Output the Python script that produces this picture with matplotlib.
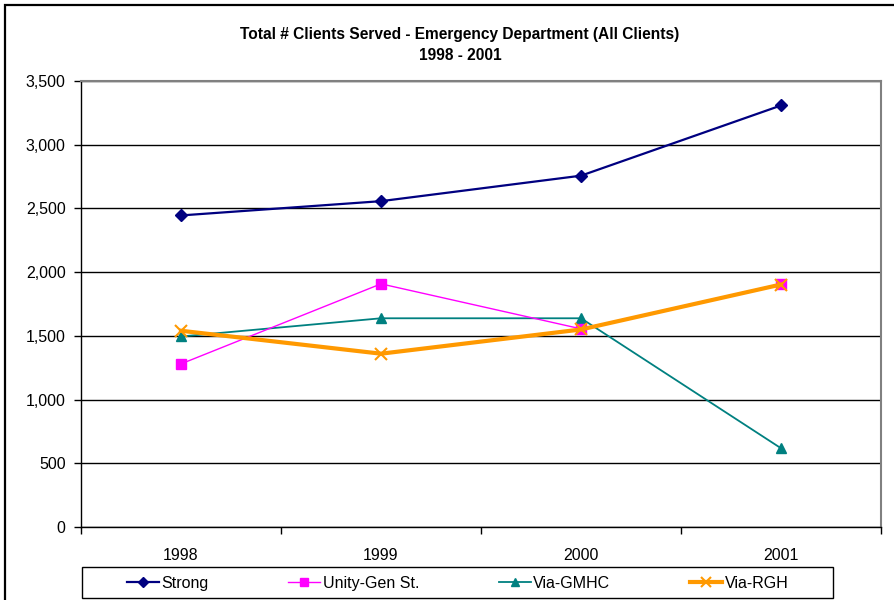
import matplotlib
matplotlib.use("Agg")
import matplotlib.pyplot as plt
from matplotlib.patches import Rectangle
from matplotlib.ticker import FuncFormatter, FixedLocator

plt.rcParams['font.family'] = ['Liberation Sans', 'DejaVu Sans']

years = ['1998', '1999', '2000', '2001']
strong = [2445, 2557, 2757, 3308]
unity = [1280, 1908, 1555, 1908]
gmhc = [1495, 1638, 1638, 618]
rgh = [1540, 1360, 1550, 1903]

W, H = 895, 600
fig = plt.figure(figsize=(W / 100, H / 100), dpi=100)

def fx(px):
    return px / W

def fy(py):
    return 1 - py / H

# outer chart frame
fig.patches.append(Rectangle((fx(5), fy(700)), 2.0, (700 - 5) / H, transform=fig.transFigure,
                             fill=False, edgecolor='black', linewidth=1.6, zorder=0))

ax = fig.add_axes([fx(81), fy(527), fx(881) - fx(81), fy(81) - fy(527)])

x = list(range(len(years)))
ax.plot(x, strong, color='#000080', marker='D', markersize=6, linewidth=1.6, label='Strong', zorder=5)
ax.plot(x, unity, color='#FF00FF', marker='s', markersize=7, linewidth=1.0, label='Unity-Gen St.', zorder=4)
ax.plot(x, gmhc, color='#008080', marker='^', markersize=7, linewidth=1.3, label='Via-GMHC', zorder=3)
ax.plot(x, rgh, color='#FF9900', marker='x', markersize=8, markeredgewidth=1.5, linewidth=3.0, label='Via-RGH', zorder=6)

ax.set_xlim(-0.5, len(years) - 0.5)
ax.set_ylim(0, 3500)
ax.set_yticks(range(0, 3501, 500))
ax.yaxis.set_major_formatter(FuncFormatter(lambda v, p: f"{int(v):,}"))
ax.set_xticks(x)
ax.set_xticklabels(years)
ax.xaxis.set_minor_locator(FixedLocator([i - 0.5 for i in range(len(years) + 1)]))
ax.tick_params(axis='x', which='major', length=0, pad=15, labelsize=11.5)
ax.tick_params(axis='x', which='minor', length=5, width=1, direction='out', color='black')
ax.tick_params(axis='y', length=5, width=1, direction='out', pad=6, labelsize=11.5)
ax.grid(axis='y', color='black', linewidth=1.0)
ax.set_axisbelow(True)
for s in ['top', 'right']:
    ax.spines[s].set_color('#808080')
    ax.spines[s].set_linewidth(1.5)
for s in ['left', 'bottom']:
    ax.spines[s].set_color('black')
    ax.spines[s].set_linewidth(1.0)

fig.text(fx(460), fy(35), 'Total # Clients Served - Emergency Department (All Clients)',
         ha='center', va='center', fontsize=11.2, fontweight='bold')
fig.text(fx(460), fy(55), '1998 - 2001', ha='center', va='center', fontsize=11.2, fontweight='bold')

# legend box
lx0, lx1, ly0, ly1 = 82, 833, 567, 598
fig.patches.append(Rectangle((fx(lx0), fy(ly1)), fx(lx1) - fx(lx0), fy(ly0) - fy(ly1),
                             transform=fig.transFigure, fill=False, edgecolor='black', linewidth=1.0))
leg = fig.legend(loc='center', bbox_to_anchor=(fx((lx0 + lx1) / 2), fy((ly0 + ly1) / 2 + 1)),
                 bbox_transform=fig.transFigure, ncol=4, frameon=False,
                 fontsize=11.5, handlelength=2.0, handletextpad=0.15, columnspacing=5.0,
                 borderaxespad=0, borderpad=0, markerscale=0.9)

fig.savefig('out.png', dpi=100)
